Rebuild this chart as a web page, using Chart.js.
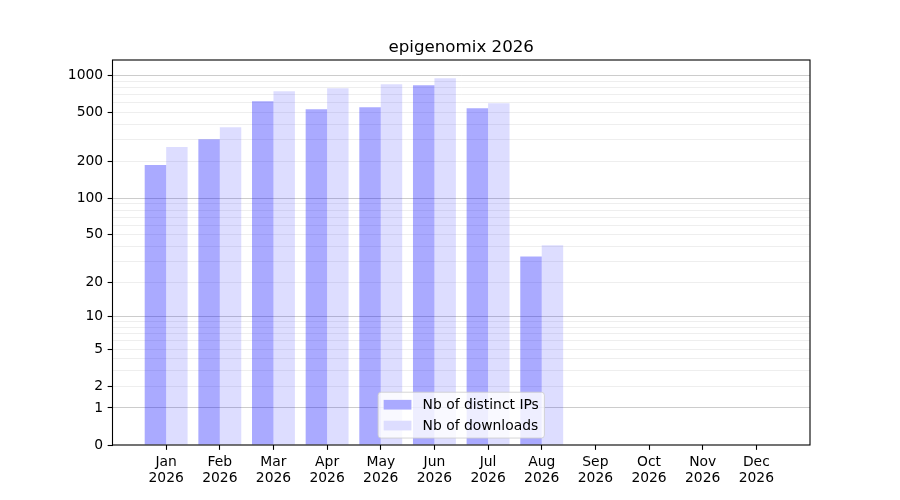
<!DOCTYPE html>
<html>
<head>
<meta charset="utf-8">
<script src="https://cdn.jsdelivr.net/npm/chart.js@4"></script>
<style>
  html, body { margin: 0; padding: 0; background: #fff; }
  #wrap { width: 900px; height: 500px; }
</style>
</head>
<body>
<div id="wrap"><canvas id="c" width="900" height="500"></canvas></div>
<script>
// ---- data ----
const TITLE = 'epigenomix 2026';
const MONTHS = ['Jan','Feb','Mar','Apr','May','Jun','Jul','Aug','Sep','Oct','Nov','Dec'];
const YEAR = '2026';
const DISTINCT_IPS = [187, 304, 620, 534, 554, 836, 543, 33, 0, 0, 0, 0];
const DOWNLOADS    = [262, 381, 747, 790, 851, 952, 597, 41, 0, 0, 0, 0];
const SERIES_LABELS = ['Nb of distinct IPs', 'Nb of downloads'];
const Y_TICK_LABELS = [0, 1, 2, 5, 10, 20, 50, 100, 200, 500, 1000];
const Y_MAJOR_GRID = [1, 10, 100, 1000];
const Y_MINOR_GRID = [2,3,4,5,6,7,8,9,20,30,40,50,60,70,80,90,200,300,400,500,600,700,800,900];
const Y_MAX = 1340;

// ---- styles ----
const FONT = '"DejaVu Sans", "Liberation Sans", sans-serif';
const FS = 13.89;
const COLOR_IPS = 'rgba(0,0,255,0.333)';
const COLOR_DL = 'rgba(0,0,255,0.133)';

// custom scale: pixel proportional to log10(v + 1)
class Log1pScale extends Chart.LinearScale {
  static id = 'log1p';
  buildTicks() {
    const vals = Array.from(new Set([0, ...Y_MAJOR_GRID, ...Y_MINOR_GRID])).sort((a, b) => a - b);
    return vals.filter(v => v <= this.max).map(v => ({ value: v }));
  }
  configure() {
    super.configure();
    this._tmin = Math.log10(this.min + 1);
    this._tmax = Math.log10(this.max + 1);
  }
  getPixelForValue(value) {
    const t = Math.log10(Math.max(value, 0) + 1);
    return this.getPixelForDecimal((t - this._tmin) / (this._tmax - this._tmin));
  }
  getValueForPixel(pixel) {
    const t = this._tmin + this.getDecimalForPixel(pixel) * (this._tmax - this._tmin);
    return Math.pow(10, t) - 1;
  }
}
Chart.register(Log1pScale);

const titlePlugin = {
  id: 'mplTitle',
  afterDraw(chart) {
    const { ctx, chartArea } = chart;
    ctx.save();
    ctx.font = `16.67px ${FONT}`;
    ctx.fillStyle = '#000';
    ctx.textAlign = 'center';
    ctx.textBaseline = 'alphabetic';
    ctx.fillText(TITLE, (chartArea.left + chartArea.right) / 2, chartArea.top - 8.3);
    ctx.restore();
  }
};

const framePlugin = {
  id: 'mplFrame',
  afterDatasetsDraw(chart) {
    const { ctx, chartArea } = chart;
    ctx.save();
    ctx.strokeStyle = '#000';
    ctx.lineWidth = 1.1;
    ctx.strokeRect(chartArea.left, chartArea.top, chartArea.right - chartArea.left, chartArea.bottom - chartArea.top);
    ctx.restore();
  }
};

const legendPlugin = {
  id: 'mplLegend',
  afterDraw(chart) {
    const { ctx, chartArea } = chart;
    const ds = chart.data.datasets;
    ctx.save();
    ctx.font = `${FS}px ${FONT}`;
    const tw = Math.max(...ds.map(d => ctx.measureText(d.label).width));
    const pad = 0.4 * FS, hl = 2 * FS, htp = 0.8 * FS, ls = 0.5 * FS;
    const w = pad * 2 + hl + htp + tw;
    const h = pad * 2 + ds.length * FS + (ds.length - 1) * ls;
    const x0 = (chartArea.left + chartArea.right) / 2 - w / 2;
    const y0 = chartArea.bottom - 0.5 * FS - h;
    const r = 3;
    ctx.beginPath();
    ctx.moveTo(x0 + r, y0);
    ctx.lineTo(x0 + w - r, y0);
    ctx.quadraticCurveTo(x0 + w, y0, x0 + w, y0 + r);
    ctx.lineTo(x0 + w, y0 + h - r);
    ctx.quadraticCurveTo(x0 + w, y0 + h, x0 + w - r, y0 + h);
    ctx.lineTo(x0 + r, y0 + h);
    ctx.quadraticCurveTo(x0, y0 + h, x0, y0 + h - r);
    ctx.lineTo(x0, y0 + r);
    ctx.quadraticCurveTo(x0, y0, x0 + r, y0);
    ctx.closePath();
    ctx.fillStyle = 'rgba(255,255,255,0.8)';
    ctx.fill();
    ctx.strokeStyle = 'rgba(204,204,204,0.8)';
    ctx.lineWidth = 1;
    ctx.stroke();
    ds.forEach((d, i) => {
      const cy = y0 + pad + i * (FS + ls) + FS / 2;
      ctx.fillStyle = '#fff';
      ctx.fillRect(x0 + pad, cy - 0.35 * FS, hl, 0.7 * FS);
      ctx.fillStyle = d.backgroundColor;
      ctx.fillRect(x0 + pad, cy - 0.35 * FS, hl, 0.7 * FS);
      ctx.fillStyle = '#000';
      ctx.textAlign = 'left';
      ctx.textBaseline = 'middle';
      ctx.fillText(d.label, x0 + pad + hl + htp, cy + 0.5);
    });
    ctx.restore();
  }
};

new Chart(document.getElementById('c'), {
  type: 'bar',
  data: {
    datasets: [
      { label: SERIES_LABELS[0], data: DISTINCT_IPS.map((v, i) => ({ x: i, y: v })), backgroundColor: COLOR_IPS, borderWidth: 0 },
      { label: SERIES_LABELS[1], data: DOWNLOADS.map((v, i) => ({ x: i, y: v })), backgroundColor: COLOR_DL, borderWidth: 0 }
    ]
  },
  options: {
    responsive: false,
    animation: false,
    devicePixelRatio: 1,
    categoryPercentage: 0.8,
    barPercentage: 1.0,
    layout: { padding: { left: 0, right: 90, top: 60, bottom: 0 } },
    plugins: { legend: { display: false }, title: { display: false }, tooltip: { enabled: false } },
    scales: {
      x: {
        type: 'linear', min: -1, max: 12, offset: false,
        afterBuildTicks: (s) => { s.ticks = MONTHS.map((m, i) => ({ value: i })); },
        afterFit: (s) => { s.height = 55; },
        ticks: {
          autoSkip: false, maxRotation: 0, padding: 4.5,
          color: '#000', font: { family: FONT, size: FS, lineHeight: 1.15 },
          callback: (v) => (MONTHS[v] !== undefined ? [MONTHS[v], YEAR] : '')
        },
        grid: { display: true, offset: false, drawOnChartArea: false, drawTicks: true, tickLength: 4.86, tickColor: '#000', tickWidth: 1.1 },
        border: { display: false }
      },
      y: {
        type: 'log1p', min: 0, max: Y_MAX,
        afterFit: (s) => { s.width = 112.5; },
        ticks: {
          autoSkip: false, padding: 4.5,
          color: '#000', font: { family: FONT, size: FS },
          callback: (v) => (Y_TICK_LABELS.includes(v) ? String(v) : '')
        },
        grid: {
          display: true, drawOnChartArea: true, drawTicks: true, tickLength: 4.86,
          color: (c) => {
            const v = c.tick ? c.tick.value : null;
            if (Y_MAJOR_GRID.includes(v)) return 'rgba(0,0,0,0.2)';
            if (v === 0) return 'rgba(0,0,0,0)';
            return 'rgba(0,0,0,0.065)';
          },
          lineWidth: 1,
          tickColor: (c) => (c.tick && Y_TICK_LABELS.includes(c.tick.value) ? '#000' : 'rgba(0,0,0,0)'),
          tickWidth: 1.1
        },
        border: { display: false }
      }
    }
  },
  plugins: [titlePlugin, framePlugin, legendPlugin]
});
</script>
</body>
</html>
